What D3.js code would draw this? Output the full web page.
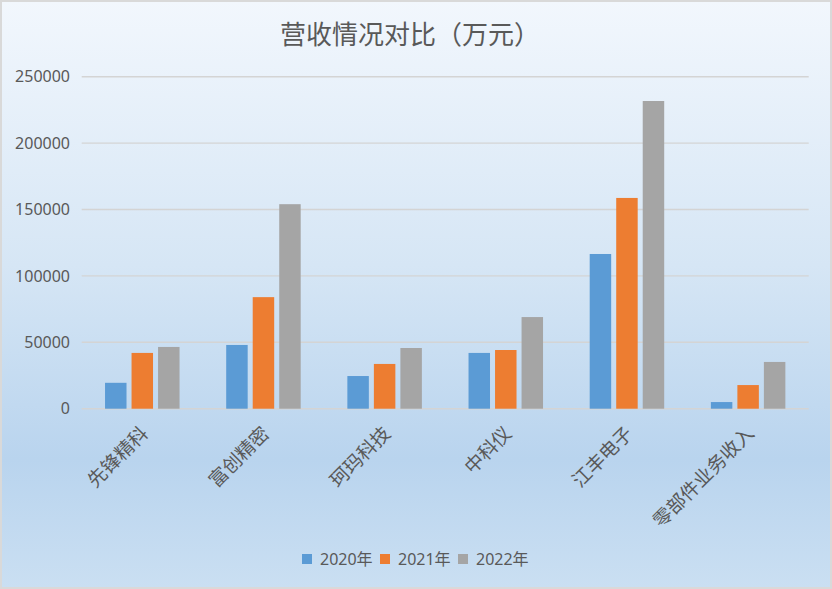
<!DOCTYPE html>
<html>
<head>
<meta charset="utf-8">
<script src="https://cdn.jsdelivr.net/npm/d3@7/dist/d3.min.js"></script>
<style>
  html, body { margin: 0; padding: 0; background: #fff; }
  svg { display: block; }
</style>
</head>
<body>
<svg id="chart" width="832" height="589"></svg>
<script>
const categories = ["先锋精科", "富创精密", "珂玛科技", "中科仪", "江丰电子", "零部件业务收入"];
const seriesNames = ["2020年", "2021年", "2022年"];
const values2020 = [19500, 48000, 24600, 42000, 116500, 5000];
const values2021 = [42000, 84000, 33700, 44200, 158700, 17800];
const values2022 = [46500, 154000, 45700, 69000, 231700, 35200];
const yTicks = [0, 50000, 100000, 150000, 200000, 250000];
const colors = ["#5b9bd5", "#ed7d31", "#a5a5a5"];
const titleText = "营收情况对比（万元）";

const seriesValues = [values2020, values2021, values2022];
const W = 832, H = 589;
const svg = d3.select("#chart");
const txt = "#595959";
const sansFont = "'Noto Sans', 'Noto Sans CJK SC', sans-serif";
const cjkFont = "'Noto Sans CJK SC', sans-serif";

// background gradient
const defs = svg.append("defs");
const grad = defs.append("linearGradient").attr("id", "bg").attr("x1", 0).attr("y1", 0).attr("x2", 0).attr("y2", 1);
grad.append("stop").attr("offset", "0%").attr("stop-color", "#f2f7fd");
grad.append("stop").attr("offset", "45%").attr("stop-color", "#d6e6f5");
grad.append("stop").attr("offset", "78%").attr("stop-color", "#b9d4ee");
grad.append("stop").attr("offset", "100%").attr("stop-color", "#cadff2");
svg.append("rect").attr("x", 1).attr("y", 1).attr("width", W - 2).attr("height", H - 2)
  .attr("fill", "url(#bg)").attr("stroke", "#d9d9d9").attr("stroke-width", 2);

const margin = { left: 81.7, right: W - 808.7, top: 76.7, bottom: H - 408.7 };
const x0 = d3.scaleBand().domain(categories).range([margin.left, W - margin.right]).padding(0);
const groupW = 74.5;
const x1 = d3.scaleBand().domain(seriesNames).range([0, groupW]).paddingInner(0.19).paddingOuter(0);
const y = d3.scaleLinear().domain([0, 250000]).range([H - margin.bottom, margin.top]);

// gridlines
svg.append("g").selectAll("line").data(yTicks).join("line")
  .attr("x1", margin.left).attr("x2", W - margin.right)
  .attr("y1", d => y(d)).attr("y2", d => y(d))
  .attr("stroke", "#d4d4d4").attr("stroke-width", 1.4);

// y tick labels
svg.append("g").selectAll("text").data(yTicks).join("text")
  .attr("x", 70).attr("y", d => y(d)).attr("dy", "0.35em")
  .attr("text-anchor", "end").attr("fill", txt)
  .attr("font-family", sansFont).attr("font-size", 16)
  .text(d => d);

// bars
const groups = svg.append("g").selectAll("g").data(categories).join("g")
  .attr("transform", c => `translate(${x0(c) + (x0.bandwidth() - groupW) / 2},0)`);
groups.selectAll("rect").data((c, ci) => seriesNames.map((s, si) => ({ s, si, v: seriesValues[si][ci] })))
  .join("rect")
  .attr("x", d => x1(d.s)).attr("width", x1.bandwidth())
  .attr("y", d => y(d.v)).attr("height", d => y(0) - y(d.v))
  .attr("fill", d => colors[d.si]);

// category labels
svg.append("g").selectAll("text").data(categories).join("text")
  .attr("transform", c => `translate(${x0(c) + x0.bandwidth() / 2 + 7},${y(0) + 26}) rotate(-45)`)
  .attr("text-anchor", "end").attr("fill", txt)
  .attr("font-family", cjkFont).attr("font-size", 19)
  .text(c => c);

// title
svg.append("text").attr("x", 410).attr("y", 44).attr("text-anchor", "middle")
  .attr("fill", txt).attr("font-family", cjkFont).attr("font-size", 26)
  .text(titleText);

// legend
const legend = svg.append("g").selectAll("g").data(seriesNames).join("g")
  .attr("transform", (d, i) => `translate(${302 + i * 78},554)`);
legend.append("rect").attr("width", 10).attr("height", 10).attr("fill", (d, i) => colors[i]);
legend.append("text").attr("x", 18).attr("y", 5).attr("dy", "0.36em")
  .attr("fill", txt).attr("font-family", sansFont).attr("font-size", 16)
  .text(d => d);
</script>
</body>
</html>
